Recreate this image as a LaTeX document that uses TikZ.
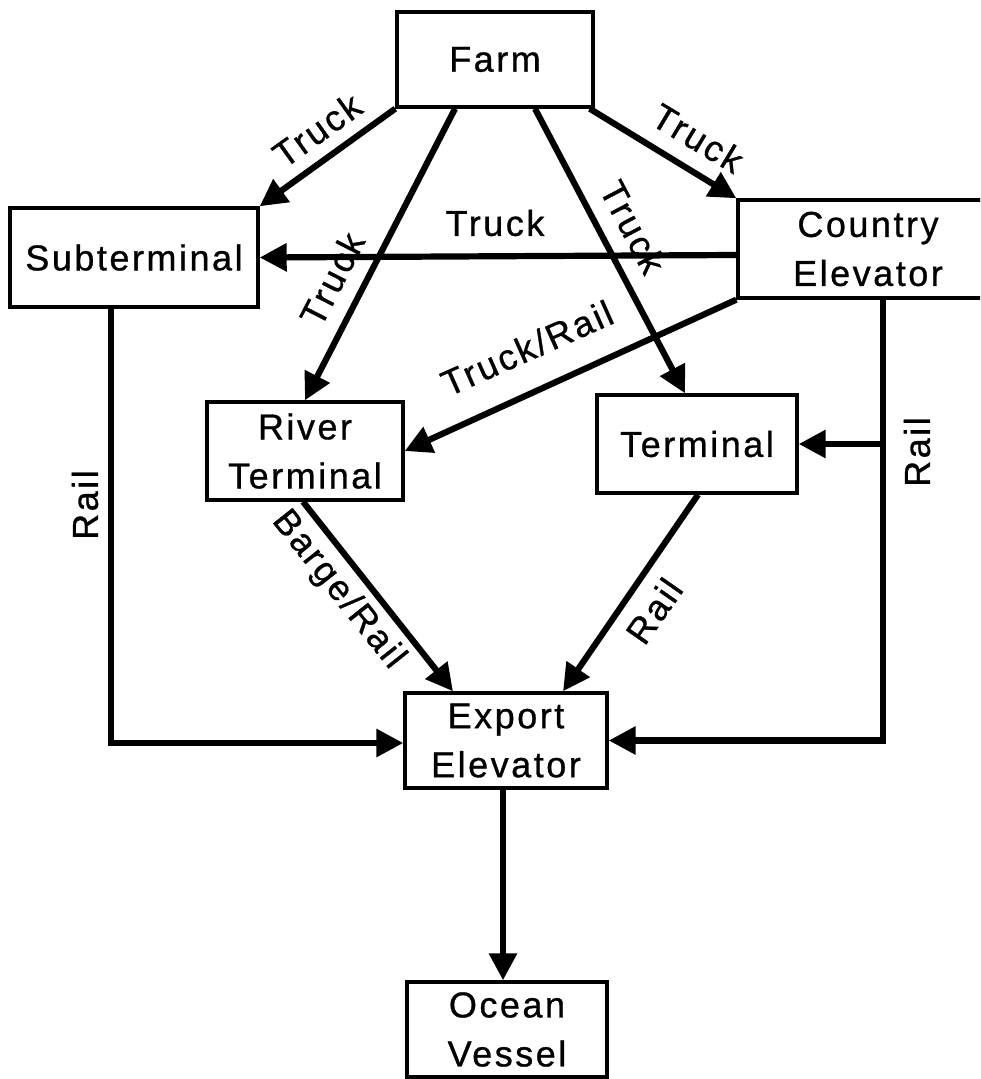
\documentclass[tikz,border=0pt]{standalone}
\usepackage{fontspec}
\setmainfont{Liberation Sans}[LetterSpace=7,FakeBold=0.8]
\usetikzlibrary{arrows.meta,calc}
\newcommand\diagfont{\fontsize{18}{24.5}\selectfont}
\begin{document}
\begin{tikzpicture}[x=0.5pt,y=-0.5pt,
  box/.style={draw,line width=1.7pt,inner sep=0pt,align=center,font=\diagfont},
  conn/.style={line width=3.1pt,-{Triangle[length=13.5pt,width=13.5pt]}},
  lab/.style={inner sep=0pt,font=\diagfont}]
\clip (0,0) rectangle (980,1079);
\fill[white] (0,0) rectangle (980,1079);
% boxes
\node[box,minimum width=98pt,minimum height=47.5pt] (farm) at (495,59.5) {Farm};
\node[box,minimum width=124pt,minimum height=49.5pt] (sub) at (134,257.5) {Subterminal};
\node[box,minimum width=130pt,minimum height=49pt] (country) at (868,249) {Country\\Elevator};
\node[box,minimum width=98pt,minimum height=49pt] (river) at (305,451) {River\\Terminal};
\node[box,minimum width=100pt,minimum height=49pt] (term) at (697,444) {Terminal};
\node[box,minimum width=101pt,minimum height=47.5pt] (export) at (506,740.5) {Export\\Elevator};
\node[box,minimum width=100pt,minimum height=47.5pt] (ocean) at (507,1029.5) {Ocean\\Vessel};
% helper coordinates
\coordinate (railR) at ($(country.south west)+(147,0)$);
\coordinate (railL) at ($(sub.south west)+(103,0)$);
% connectors
\draw[conn] (farm.south west) -- (sub.north east);
\draw[conn] ($(farm.south)+(-40,0)$) -- (river.north);
\draw[conn] ($(farm.south)+(40,0)$) -- ($(term.north)+(-12,0)$);
\draw[conn] ($(farm.south east)+(-5,0)$) -- (country.north west);
\draw[conn] ($(country.west)+(0,6)$) -- (sub.east);
\draw[conn] (country.south west) -- (river.east);
\draw[conn] (railR) |- (export.east);
\draw[conn] (term.east -| railR) -- (term.east);
\draw[conn] (railL) |- ($(export.west)+(0,2.5)$);
\draw[conn] ($(river.south)+(-2,0)$) -- ($(export.north)+(-53,0)$);
\draw[conn] ($(term.south)+(1,0)$) -- ($(export.north)+(57,0)$);
\draw[conn] ($(export.south)+(-3,0)$) -- ($(ocean.north)+(-4,0)$);
% labels
\node[lab,rotate=35.6] (l1) at (317,130) {Truck};
\node[lab,rotate=62.8] (l2) at (332,279) {Truck};
\node[lab,rotate=-62.2] (l3) at (633,227) {Truck};
\node[lab,rotate=-31] (l4) at (698,138) {Truck};
\node[lab] (l5) at (495,223) {Truck};
\node[lab,rotate=24] (l6) at (527,348) {Truck/Rail};
\node[lab,rotate=90] (l7) at (85,505) {Rail};
\node[lab,rotate=90] (l8) at (917,452) {Rail};
\node[lab,rotate=-51.5] (l9) at (338,590) {Barge/Rail};
\node[lab,rotate=55] (l10) at (654,611) {Rail};
\end{tikzpicture}
\end{document}
